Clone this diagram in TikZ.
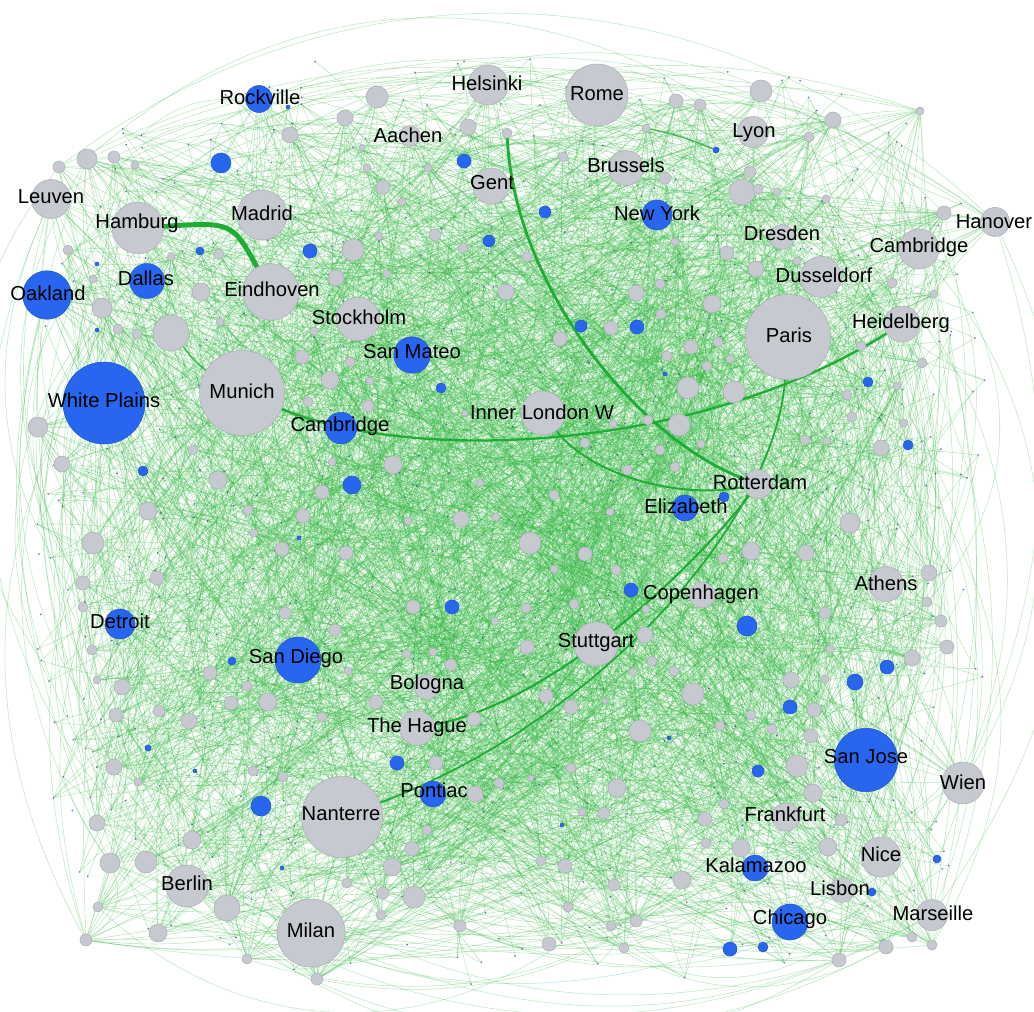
\documentclass[tikz,border=0pt]{standalone}
\usepackage{fontspec}
\setmainfont{Liberation Sans}
\pgfdeclarelayer{edges}
\pgfsetlayers{edges,main}
\definecolor{ngray}{RGB}{199,201,208}
\definecolor{ngrayd}{RGB}{172,174,182}
\definecolor{nblue}{RGB}{40,102,240}
\definecolor{egreen}{RGB}{50,185,65}
\definecolor{hgreen}{RGB}{30,172,52}
\definecolor{dotblue}{RGB}{60,72,150}
\begin{document}
\begin{tikzpicture}[x=0.02cm,y=-0.02cm,
  gn/.style={circle,fill=ngray,draw=ngrayd,line width=0.3pt,inner sep=0pt,minimum size=#1},
  bn/.style={circle,fill=nblue,draw=nblue!85!black,line width=0.3pt,inner sep=0pt,minimum size=#1},
  dn/.style={circle,fill=dotblue,fill opacity=0.75,draw=none,inner sep=0pt,minimum size=0.04cm},
  lab/.style={font=\fontsize{11.5}{13}\selectfont,text=black,inner sep=0pt},
  edge/.style={draw=egreen,line width=0.3pt,opacity=0.33},
  heavy/.style={draw=hgreen,line width=1.4pt},
  midedge/.style={draw=hgreen,line width=0.8pt,opacity=0.8}]
\useasboundingbox (0,0) rectangle (1034,1011);
\pgfmathsetseed{4711}
% tiny dots
\foreach \i in {1,...,650}{
  \pgfmathsetmacro\u{rand}
  \pgfmathsetmacro\v{rand}
  \pgfmathsetmacro\s{max(abs(\u),abs(\v))/sqrt(sqrt(\u*\u*\u*\u+\v*\v*\v*\v+0.00001))}
  \node[dn] (d\i) at ({515+478*\u*\s},{525+468*\v*\s}) {};
}
% unlabeled gray nodes
\foreach \x/\y/\r [count=\i] in {
377/97/11, 345/118/8, 290/135/8, 87/159/10, 114/157/6, 59/167/6, 135/165/4, 468/127/8, 383/187/7, 367/168/4, 362/148/3, 428/168/4, 402/202/4, 353/250/11, 435/235/6, 463/248/5, 379/236/4, 387/274/4, 336/278/8, 201/292/9, 219/254/5, 171/257/4, 68/250/5, 93/279/4, 102/308/10, 118/329/5, 137/334/5, 220/322/4, 506/292/8, 302/357/7, 350/362/5, 314/331/4, 370/381/4, 330/380/9, 368/406/6, 308/402/5, 38/427/10, 62/464/8, 193/450/5, 218/480/9, 393/465/9, 332/462/4, 322/492/7, 480/483/4, 465/413/3,
761/91/11, 676/101/7, 700/105/6, 833/120/8, 809/137/5, 920/111/4, 646/128/4, 563/157/5, 665/178/6, 750/172/6, 742/192/13, 758/189/5, 777/192/4, 826/199/4, 944/213/7, 527/257/5, 675/242/4, 727/253/7, 756/269/8, 797/261/4, 892/283/5, 934/294/4, 660/284/5, 636/293/8, 712/304/9, 661/314/5, 611/328/7, 560/339/7, 691/347/7, 718/342/5, 667/356/5, 730/359/4, 707/366/5, 688/388/11, 734/392/11, 861/346/5, 922/363/5, 847/395/5, 897/386/4, 852/417/5, 904/423/4, 679/425/11, 648/420/5, 613/424/4, 585/443/5, 660/450/5, 701/444/4, 805/440/5, 827/441/4, 881/448/8, 675/467/5, 627/470/5, 554/495/5, 610/512/4,
148/511/9, 248/510/5, 303/516/7, 461/519/8, 496/517/4, 408/521/4, 93/543/11, 254/533/4, 282/549/7, 346/553/7, 83/583/7, 157/578/7, 83/607/5, 285/613/6, 413/607/7, 495/621/4, 92/650/5, 335/630/6, 407/654/4, 433/652/4, 451/665/6, 210/673/7, 348/671/4, 97/680/4, 122/687/8, 247/686/5, 231/703/7, 268/702/9, 376/702/7, 116/715/7, 159/711/6, 189/721/8, 322/717/5, 474/719/7, 114/767/8, 138/782/4, 253/771/5, 283/777/5, 436/763/7, 499/783/5, 475/794/8, 97/823/8, 192/840/9, 427/830/5, 412/849/7, 110/863/10, 146/862/11, 392/867/9, 347/883/5, 383/893/6, 227/908/13, 414/897/11, 98/907/5, 381/915/5, 158/933/9, 86/940/6, 460/926/6, 247/959/5, 317/979/6,
530/543/11, 850/523/10, 585/554/7, 751/551/9, 806/553/8, 723/558/5, 554/569/4, 616/570/5, 929/573/8, 526/608/5, 574/604/5, 646/609/4, 927/602/5, 825/613/6, 941/621/6, 645/635/8, 527/647/7, 830/649/4, 947/647/7, 652/661/5, 674/671/5, 912/658/8, 633/672/4, 825/679/4, 791/680/8, 693/694/11, 546/696/7, 571/707/7, 605/701/3, 814/710/7, 751/715/5, 720/726/5, 772/729/5, 811/736/7, 640/731/11, 797/766/11, 571/768/5, 531/778/3, 617/788/9, 813/793/9, 724/804/5, 582/812/4, 604/813/6, 705/819/7, 841/820/6, 706/843/5, 741/848/9, 828/847/9, 541/861/5, 565/866/7, 682/880/9, 614/885/6, 568/907/5, 636/921/6, 611/926/5, 549/944/7, 624/948/5, 886/947/7, 912/937/5, 932/945/5, 839/960/7}
{\node[gn=\r*0.04cm] (g\i) at (\x,\y) {}; \xdef\Ng{\i}}
\node[gn=0.2cm] (gtop) at (507,133) {};
\node[gn=0.72cm] (gmun) at (171,333) {};
% unlabeled blue nodes
\foreach \x/\y/\r [count=\i] in {
221/163/10, 464/161/7, 310/251/7, 200/251/4, 489/241/6, 441/388/5, 143/471/5, 352/485/9, 545/212/6, 716/150/3, 581/326/6, 637/327/7, 868/382/5, 908/445/5, 452/607/7, 232/661/4, 148/748/3, 397/763/7, 261/806/10, 631/590/7, 747/626/10, 887/667/7, 855/682/8, 790/707/7, 758/771/6, 937/859/4, 872/892/4, 730/949/7, 763/947/5, 724/497/5, 288/107/2, 97/264/2, 97/330/2, 665/374/2, 299/538/2, 195/771/2, 282/868/2, 562/825/2, 669/738/2}
{\node[bn=\r*0.04cm] (b\i) at (\x,\y) {}; \xdef\Nb{\i}}
% labelled gray hubs
\foreach \n/\x/\y/\d in {
helsinki/488/85/0.8, rome/597/95/1.24, aachen/410/136/0.42, lyon/753/132/0.62,
brussels/626/168/0.7, gent/491/186/0.72, leuven/51/199/0.78, hamburg/138/228/1.03,
madrid/262/215/1.0, dresden/782/237/0.5, hanover/995/222/0.58, cambR/919/249/0.8,
eindhoven/271/292/1.13, dusseldorf/821/277/0.82, stockholm/358/319/0.87, paris/788/337/1.7,
heidelberg/902/324/0.72, munich/242/393/1.7, london/543/413/0.88, rotterdam/758/484/0.58,
athens/886/584/0.7, copenhagen/702/595/0.52, stuttgart/596/644/0.88, bologna/427/687/0.5,
hague/417/728/0.7, wien/963/783/0.84, nanterre/342/817/1.62, frankfurt/786/817/0.56,
nice/881/857/0.8, berlin/187/886/0.84, lisbon/842/890/0.5, marseille/932/915/0.62,
milan/311/933/1.36}
{\node[gn=\d cm] (\n) at (\x,\y) {};}
% labelled blue hubs
\foreach \n/\x/\y/\d in {
rockville/259/99/0.54, newyork/657/215/0.6, oakland/47/295/0.97, dallas/147/281/0.7,
sanmateo/412/355/0.73, whiteplains/104/403/1.64, cambL/341/428/0.63, elizabeth/685/508/0.52,
detroit/120/624/0.6, sandiego/298/660/0.92, sanjose/866/760/1.27, pontiac/433/794/0.52,
kalamazoo/755/868/0.52, chicago/790/922/0.72}
{\node[bn=\d cm] (\n) at (\x,\y) {};}
% labels
\foreach \n/\x/\y/\t in {
rockville/260/97/Rockville, helsinki/487/83/Helsinki, rome/597/94/Rome, aachen/408/135/Aachen,
lyon/754/133/Lyon, brussels/626/165/Brussels, gent/492/183/Gent, leuven/51/197/Leuven,
hamburg/137/223/Hamburg, madrid/262/213/Madrid, newyork/657/213/New York, dresden/782/233/Dresden,
hanover/994/222/Hanover, cambR/919/247/Cambridge, oakland/48/293/Oakland, dallas/146/278/Dallas,
eindhoven/272/289/Eindhoven, dusseldorf/824/275/Dusseldorf, stockholm/359/317/Stockholm,
paris/789/335/Paris, heidelberg/901/323/Heidelberg, sanmateo/412/352/San Mateo,
whiteplains/104/400/White Plains, munich/242/391/Munich, london/542/412/Inner London W,
cambL/340/426/Cambridge, rotterdam/760/482/Rotterdam, elizabeth/686/506/Elizabeth,
athens/886/583/Athens, copenhagen/701/594/Copenhagen, detroit/120/621/Detroit,
stuttgart/596/643/Stuttgart, sandiego/296/658/San Diego, bologna/427/684/Bologna,
hague/417/727/The Hague, sanjose/866/757/San Jose, wien/963/782/Wien, pontiac/434/790/Pontiac,
nanterre/341/814/Nanterre, frankfurt/785/814/Frankfurt, nice/881/854/Nice,
kalamazoo/756/865/Kalamazoo, berlin/187/883/Berlin, lisbon/840/888/Lisbon,
marseille/933/913/Marseille, chicago/790/919/Chicago, milan/311/930/Milan}
{\node[lab] (\n-l) at (\x,\y) {\t};}
% connectors
\begin{pgfonlayer}{edges}
\fill[white] (0,0) rectangle (1034,1011);
\foreach \k in {1,...,1200}{
  \pgfmathrandominteger{\a}{1}{\Ng}
  \pgfmathrandominteger{\b}{1}{650}
  \pgfmathrandominteger{\c}{10}{42}
  \draw[edge] (g\a) to[bend right=\c] (d\b);
}
\foreach \k in {1,...,700}{
  \pgfmathrandominteger{\a}{1}{\Ng}
  \pgfmathrandominteger{\b}{1}{\Ng}
  \pgfmathrandominteger{\c}{10}{42}
  \draw[edge] (g\a) to[bend right=\c] (g\b);
}
\foreach \k in {1,...,350}{
  \pgfmathrandominteger{\a}{1}{650}
  \pgfmathrandominteger{\b}{1}{650}
  \pgfmathrandominteger{\c}{10}{42}
  \draw[edge] (d\a) to[bend right=\c] (d\b);
}
\foreach \k in {1,...,200}{
  \pgfmathrandominteger{\a}{1}{\Nb}
  \pgfmathrandominteger{\b}{1}{\Ng}
  \pgfmathrandominteger{\c}{10}{42}
  \draw[edge] (b\a) to[bend right=\c] (g\b);
}
\foreach \h in {helsinki,rome,aachen,lyon,brussels,gent,leuven,hamburg,madrid,dresden,hanover,cambR,eindhoven,dusseldorf,stockholm,paris,heidelberg,munich,london,rotterdam,athens,copenhagen,stuttgart,bologna,hague,wien,nanterre,frankfurt,nice,berlin,lisbon,marseille,milan,rockville,newyork,oakland,dallas,sanmateo,whiteplains,cambL,elizabeth,detroit,sandiego,sanjose,pontiac,kalamazoo,chicago}{
  \foreach \k in {1,...,16}{
    \pgfmathrandominteger{\a}{1}{\Ng}
    \pgfmathrandominteger{\c}{10}{42}
    \draw[edge] (\h) to[bend right=\c] (g\a);
  }
}
% outer arcs
\draw[edge] (leuven) to[bend left=30] (hanover);
\draw[edge] (rockville) to[bend left=25] (hanover);
\draw[edge] (helsinki) to[bend left=20] (hanover);
\draw[edge] (oakland) to[bend right=30] (milan);
\draw[edge] (whiteplains) to[bend right=25] (milan);
\draw[edge] (leuven) to[bend right=35] (berlin);
\draw[edge] (detroit) to[bend right=30] (berlin);
\draw[edge] (hanover) to[bend left=30] (marseille);
\draw[edge] (hanover) to[bend left=20] (wien);
\draw[edge] (cambR) to[bend left=35] (wien);
\draw[edge] (milan) to[bend right=25] (marseille);
\draw[edge] (berlin) to[bend right=25] (chicago);
\draw[edge] (berlin) to[bend right=30] (marseille);
\draw[edge] (cambR) to[bend left=25] (chicago);
% heavy links
\draw[heavy,line width=2.8pt] (hamburg) .. controls (232,222) .. (eindhoven);
\draw[heavy,line width=1.3pt] (munich) .. controls (420,465) and (700,450) .. (heidelberg);
\draw[heavy,line width=1.6pt] (gtop) .. controls (515,290) and (640,440) .. (rotterdam);
\draw[heavy,line width=1.1pt] (london) .. controls (590,475) and (680,500) .. (rotterdam);
\draw[heavy,line width=1.2pt] (rotterdam) .. controls (700,560) and (560,700) .. (hague);
\draw[heavy,line width=1.0pt] (paris) .. controls (775,520) and (600,720) .. (nanterre);
\draw[midedge] (gmun) to[bend right=8] (munich);
\draw[midedge] (g52) to[bend left=5] (b10);
\end{pgfonlayer}
\end{tikzpicture}
\end{document}
